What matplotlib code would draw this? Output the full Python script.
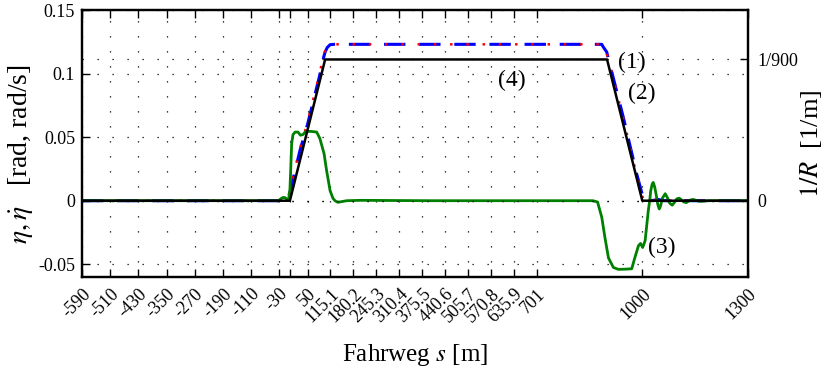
import numpy as np
import matplotlib.pyplot as plt

plt.rcParams["font.family"] = ["Liberation Serif", "DejaVu Serif"]
plt.rcParams["mathtext.fontset"] = "stix"

# x ticks (Fahrweg s in m)
xticks = [-590, -510, -430, -350, -270, -190, -110, -30, 0, 50, 115.1, 180.2,
          245.3, 310.4, 375.5, 440.6, 505.7, 570.8, 635.9, 701, 1000, 1300]
xtick_labels = ["-590", "-510", "-430", "-350", "-270", "-190", "-110", "-30", "",
                "50", "115.1", "180.2", "245.3", "310.4", "375.5", "440.6",
                "505.7", "570.8", "635.9", "701", "1000", "1300"]
yticks = [-0.05, 0, 0.05, 0.1, 0.15]
ytick_labels = ["-0.05", "0", "0.05", "0.1", "0.15"]

# (1) blue dashed
s_blue = [-590, -8, -4.5, 28.6, 50.5, 83.5, 95, 100, 106, 114, 125, 885, 889, 899,
          946, 984, 1003, 1010, 1017, 1025, 1045, 1060, 1300]
v_blue = [0, 0, 0.0015, 0.0395, 0.0605, 0.0973, 0.112, 0.117, 0.1205, 0.1227, 0.123,
          0.123, 0.121, 0.117, 0.0657, 0.0212, 0.0017, 0.0, 0.002, 0.0, 0.001, 0, 0]

# (2) red dotted
s_red = [-590, -10, -6, 27, 49, 82, 94, 99, 105, 113, 124, 884, 888, 898,
         945, 983, 1002, 1009, 1016, 1024, 1044, 1060, 1300]
v_red = [0, 0, 0.0015, 0.0395, 0.0605, 0.0973, 0.112, 0.117, 0.1205, 0.1227, 0.123,
         0.123, 0.121, 0.117, 0.0657, 0.0212, 0.0017, -0.001, 0.001, 0.0, 0.0005, 0, 0]

# (3) green
s_green = [-590, -32, -26, -20, -14, -8, -4, 0, 2.3, 5, 8.8, 15, 23, 30, 37, 45, 60,
           76, 85, 97, 104, 114, 122, 128, 136, 145, 161, 200, 400, 600, 860, 873,
           885, 894, 904, 918, 932, 955, 970, 979, 989, 995, 1001, 1008, 1017, 1021,
           1024, 1028, 1031, 1035, 1039, 1044, 1048, 1052, 1057, 1065, 1072, 1078,
           1085, 1092, 1098, 1105, 1112, 1118, 1125, 1135, 1145, 1155, 1165, 1190, 1300]
v_green = [0, 0, 0.0015, 0.0025, 0.0025, 0.001, 0.0005, 0.008, 0.024, 0.045, 0.052,
           0.054, 0.054, 0.0515, 0.052, 0.0545, 0.0545, 0.054, 0.049, 0.037, 0.024,
           0.008, 0.002, 0, -0.0013, -0.0008, 0, 0.0003, 0, 0, 0, -0.001,
           -0.013, -0.029, -0.045, -0.0525, -0.054, -0.0538, -0.0535, -0.0447, -0.0355,
           -0.0336, -0.0368, -0.0315, -0.0079, 0.0, 0.0079, 0.013, 0.0144, 0.011,
           0.0053, -0.003, -0.0065, -0.004, 0.002, 0.0055, 0.002, -0.002, -0.0035,
           -0.001, 0.0015, 0.002, 0.0005, -0.001, -0.0015, 0.0005, 0.001, 0, -0.0005,
           0, 0]

# (4) black, curvature 1/R scaled
s_black = [-590, 0, 100, 900, 1000, 1300]
v_black = [0, 0, 0.1111, 0.1111, 0, 0]

labels = [("(1)", 971, 0.1088), ("(2)", 999, 0.0844), ("(3)", 1056, -0.0369),
          ("(4)", 630, 0.0946)]

fig = plt.figure(figsize=(8.28, 3.76), dpi=100)
ax = fig.add_axes([0.099, 0.2633, 0.8044, 0.7101])

grid_style = dict(color="black", linestyle=(0, (1, 11)), linewidth=0.9)
ax.grid(True, **grid_style)

ax.plot(s_blue, v_blue, color="blue", linestyle=(0, (7, 4.5)), linewidth=2.2)
ax.plot(s_red, v_red, color="red", linestyle=(0, (1, 5.5)), linewidth=1.8)
ax.plot(s_green, v_green, color="green", linewidth=2)
ax.plot(s_black, v_black, color="black", linewidth=1.8)

for txt, xs, ys in labels:
    ax.text(xs, ys, txt, fontsize=17, ha="center", va="center")

ax.set_xlim(-590, 1300)
ax.set_ylim(-0.06, 0.15)
ax.set_xticks(xticks)
ax.set_xticklabels(xtick_labels, rotation=45, ha="right", va="top",
                   rotation_mode="anchor")
ax.set_yticks(yticks)
ax.set_yticklabels(ytick_labels)
ax.tick_params(direction="in", length=5.5, width=1, top=True, right=True,
               labelsize=13, pad=5)
ax.tick_params(axis="x", pad=6)
for sp in ax.spines.values():
    sp.set_linewidth(1.6)

ax.set_xlabel("Fahrweg $s$ [m]", fontsize=18, va="center")
ax.xaxis.set_label_coords(0.5, -0.292)
ax.set_ylabel(r"$\eta, \dot{\eta}$   [rad, rad/s]", fontsize=20,
              va="center", ha="center")
ax.yaxis.set_label_coords(-0.0916, 0.46)

ax2 = ax.twinx()
ax2.set_ylim(-0.06 / 100, 0.15 / 100)
ax2.set_yticks([0, 1 / 900])
ax2.set_yticklabels(["0", "1/900"])
ax2.tick_params(direction="in", length=5.5, width=1, labelsize=13, pad=7)
ax2.grid(True, axis="y", **grid_style)
for sp in ax2.spines.values():
    sp.set_linewidth(1.6)
ax2.set_ylabel(r"$1/R$  [1/m]", fontsize=19, rotation=90,
               va="center", ha="center")
ax2.yaxis.set_label_coords(1.0952, 0.5)

fig.savefig("out.png", dpi=100)
